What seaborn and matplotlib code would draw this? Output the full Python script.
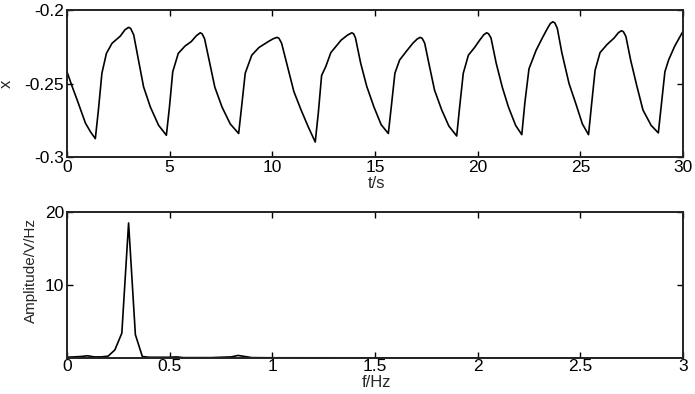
import matplotlib
matplotlib.use("Agg")
import matplotlib.pyplot as plt
import seaborn as sns
import pandas as pd

# time signal
t = [0.0, 0.25, 0.5, 0.9, 1.15, 1.38,
     1.53, 1.70, 1.92, 2.19, 2.6, 2.82, 3.0, 3.1,
     3.25, 3.48, 3.73, 4.06, 4.46, 4.84,
     4.99, 5.15, 5.42, 5.75, 6.05, 6.3, 6.49, 6.58,
     6.7, 6.95, 7.2, 7.55, 7.95, 8.36,
     8.51, 8.68, 9.0, 9.35, 9.8, 10.05, 10.23, 10.32,
     10.45, 10.75, 11.05, 11.4, 11.75, 12.09,
     12.24, 12.4, 12.6, 12.85, 13.35, 13.65, 13.87, 13.96,
     14.05, 14.3, 14.6, 14.95, 15.3, 15.65,
     15.8, 15.97, 16.2, 16.55, 16.85, 17.05, 17.2, 17.3,
     17.42, 17.65, 17.9, 18.25, 18.6, 18.98,
     19.13, 19.3, 19.55, 19.85, 20.1, 20.3, 20.44, 20.53,
     20.65, 20.9, 21.2, 21.5, 21.85, 22.15,
     22.3, 22.5, 22.85, 23.15, 23.4, 23.54, 23.66, 23.76,
     23.88, 24.1, 24.45, 24.8, 25.1, 25.4,
     25.55, 25.72, 25.96, 26.3, 26.65, 26.85, 27.0, 27.1,
     27.22, 27.45, 27.75, 28.05, 28.45, 28.8,
     28.95, 29.12, 29.3, 29.6, 30.0]
x = [-0.242, -0.252, -0.2614, -0.277, -0.283, -0.2875,
     -0.268, -0.243, -0.2295, -0.2227, -0.2177, -0.2135, -0.2118, -0.2125,
     -0.217, -0.234, -0.2523, -0.266, -0.2784, -0.2852,
     -0.266, -0.242, -0.2295, -0.2245, -0.2215, -0.2175, -0.2155, -0.2162,
     -0.2195, -0.236, -0.2525, -0.266, -0.2775, -0.284,
     -0.265, -0.243, -0.2307, -0.2255, -0.2215, -0.2195, -0.2186, -0.2192,
     -0.2225, -0.239, -0.2555, -0.268, -0.2795, -0.2898,
     -0.27, -0.2445, -0.2386, -0.229, -0.2205, -0.2172, -0.2155, -0.2162,
     -0.219, -0.236, -0.252, -0.266, -0.278, -0.284,
     -0.265, -0.243, -0.234, -0.2277, -0.2225, -0.2198, -0.2186, -0.2193,
     -0.2225, -0.238, -0.2545, -0.268, -0.279, -0.2857,
     -0.265, -0.243, -0.2307, -0.2255, -0.2205, -0.2168, -0.2155, -0.2162,
     -0.219, -0.236, -0.2525, -0.266, -0.2785, -0.2848,
     -0.263, -0.24, -0.2273, -0.219, -0.2125, -0.2092, -0.208, -0.2088,
     -0.2125, -0.229, -0.25, -0.2645, -0.2775, -0.2848,
     -0.264, -0.241, -0.229, -0.2235, -0.219, -0.2155, -0.2141, -0.2148,
     -0.218, -0.234, -0.2515, -0.268, -0.2785, -0.2836,
     -0.264, -0.242, -0.234, -0.2245, -0.2145]

# amplitude spectrum
f = [0.0, 0.033, 0.067, 0.1, 0.133, 0.167, 0.2, 0.233, 0.267, 0.3,
     0.333, 0.367, 0.4, 0.5, 0.533, 0.567, 0.7, 0.8, 0.833, 0.867,
     0.9, 1.0, 1.5, 2.0, 2.5, 3.0]
amp = [0.1, 0.15, 0.2, 0.3, 0.15, 0.15, 0.25, 1.1, 3.4, 18.5,
       3.2, 0.2, 0.1, 0.1, 0.15, 0.05, 0.05, 0.15, 0.35, 0.2,
       0.05, 0.03, 0.02, 0.02, 0.02, 0.02]

sns.set_style("ticks")
plt.rcParams['font.family'] = ['Liberation Sans', 'DejaVu Sans']
plt.rcParams['axes.unicode_minus'] = False

fig = plt.figure(figsize=(6.95, 3.94), dpi=100)
ax1 = fig.add_axes([0.0964, 0.6015, 0.8863, 0.3731])
ax2 = fig.add_axes([0.0964, 0.0914, 0.8863, 0.3705])

df_t = pd.DataFrame({'t': t, 'x': x})
df_f = pd.DataFrame({'f': f, 'amp': amp})

sns.lineplot(data=df_t, x='t', y='x', ax=ax1, color='black', lw=1.2)
sns.lineplot(data=df_f, x='f', y='amp', ax=ax2, color='black', lw=1.2)

ax1.set_xlim(0, 30)
ax1.set_ylim(-0.3, -0.2)
ax1.set_xticks([0, 5, 10, 15, 20, 25, 30])
ax1.set_xticklabels(['0', '5', '10', '15', '20', '25', '30'])
ax1.set_yticks([-0.3, -0.25, -0.2])
ax1.set_yticklabels(['-0.3', '-0.25', '-0.2'])
ax1.set_xlabel('t/s', fontsize=12)
ax1.set_ylabel('x', fontsize=12)
ax1.xaxis.set_label_coords(0.503, -0.13)
ax1.yaxis.set_label_coords(-0.086, 0.5)

ax2.set_xlim(0, 3)
ax2.set_ylim(0, 20)
ax2.set_xticks([0, 0.5, 1, 1.5, 2, 2.5, 3])
ax2.set_xticklabels(['0', '0.5', '1', '1.5', '2', '2.5', '3'])
ax2.set_yticks([10, 20])
ax2.set_yticklabels(['10', '20'])
ax2.set_xlabel('f/Hz', fontsize=12)
ax2.set_ylabel('Amplitude/V/Hz', fontsize=11)
ax2.xaxis.set_label_coords(0.503, -0.115)
ax2.yaxis.set_label_coords(-0.047, 0.6)

for ax in (ax1, ax2):
    for s in ax.spines.values():
        s.set_visible(True)
        s.set_linewidth(1.4)
        s.set_color('#222222')
    ax.tick_params(direction='in', length=4, width=1, top=True, right=True,
                   pad=1, labelsize=12.5, colors='black')
    ax.tick_params(axis='y', pad=2)
ax1.tick_params(axis='x', pad=2.5)

fig.savefig('out.png', dpi=100)
